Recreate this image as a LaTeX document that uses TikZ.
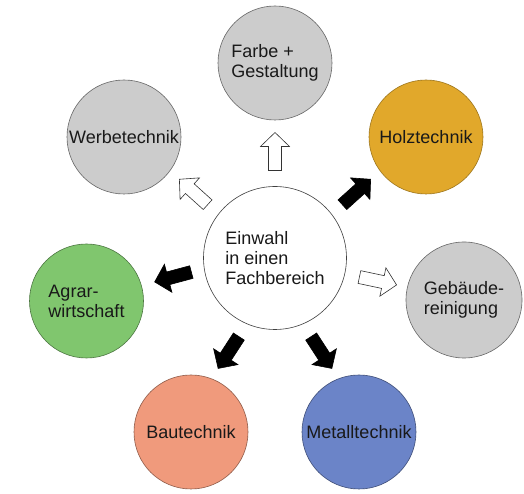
\documentclass[tikz,border=0pt]{standalone}
\usepackage{fontspec}
\setmainfont{Liberation Sans}
\begin{document}
\begin{tikzpicture}[x=1pt,y=1pt,
  bub/.style={circle, draw=#1, line width=0.6pt, minimum size=114pt, inner sep=0pt,
    font=\fontsize{18}{20}\selectfont, align=left, text=black!90},
  grayb/.style={bub=black!60, fill=gray!40},
  barrow/.pic={\path[pic actions] (-19,-6.5) -- (5,-6.5) -- (5,-14.5) -- (19,0) -- (5,14.5) -- (5,6.5) -- (-19,6.5) -- cycle;},
  whitearrow/.style={draw=black!80, fill=white, line width=0.6pt},
  blackarrow/.style={draw=black, fill=black, line width=0.6pt}
]
\definecolor{holzc}{HTML}{E1A82B}
\definecolor{agrarc}{HTML}{80C66E}
\definecolor{bauc}{HTML}{F09A7C}
\definecolor{metallc}{HTML}{6B84C8}
\useasboundingbox (0,0) rectangle (524,494);

\node[bub=black!75, fill=white, minimum size=143pt] (c) at (275,236) {Einwahl\\in einen\\Fachbereich};
\node[grayb] (farbe) at (275,431) {Farbe +\\Gestaltung};
\node[grayb] (werbe) at (124,357) {Werbetechnik};
\node[bub=holzc!70!black, fill=holzc] (holz) at (426,357) {Holztechnik};
\node[bub=agrarc!60!black, fill=agrarc] (agrar) at (86.5,193) {Agrar-\\wirtschaft};
\node[grayb, minimum size=116pt] (geb) at (464,194) {Geb\"aude-\\reinigung};
\node[bub=bauc!60!black, fill=bauc] (bau) at (191,62) {Bautechnik};
\node[bub=metallc!60!black, fill=metallc] (metall) at (359,62) {Metalltechnik};

\pic[whitearrow, rotate=90] at (275,342.5) {barrow};
\pic[whitearrow, rotate=138] at (193.5,302) {barrow};
\pic[blackarrow, rotate=42] at (356.5,302) {barrow};
\pic[blackarrow, rotate=195] at (173,217) {barrow};
\pic[whitearrow, rotate=-12] at (378,213) {barrow};
\pic[blackarrow, rotate=237] at (228.5,141.5) {barrow};
\pic[blackarrow, rotate=-57] at (321.5,141.5) {barrow};
\end{tikzpicture}
\end{document}
